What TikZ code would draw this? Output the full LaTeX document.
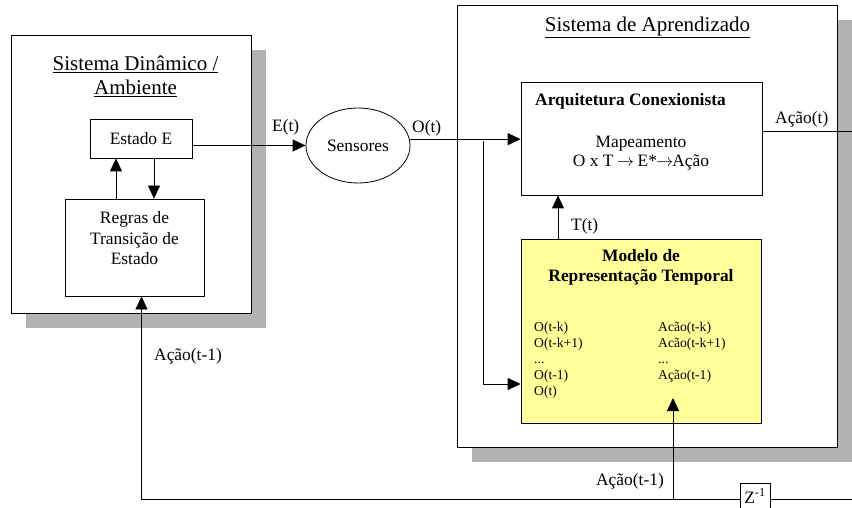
\documentclass[tikz,border=0pt]{standalone}
\usepackage{fontspec}
\setmainfont{Liberation Serif}
\usetikzlibrary{arrows.meta,shapes.geometric,shadows}
\definecolor{shadowgray}{HTML}{B2B2B2}
\definecolor{notey}{HTML}{FFFF99}
\newcommand{\myarrow}{\ensuremath{\mkern-1mu\rightarrow\mkern-1mu}}
\tikzset{
 box/.style={draw=black, line width=0.8pt, fill=white, inner sep=0pt},
 shad/.style={drop shadow={shadow xshift=15pt, shadow yshift=-15pt, fill=shadowgray, opacity=1}},
 body/.style={font=\fontsize{17.4}{20.5}\selectfont},
 ttl/.style={font=\fontsize{21}{23.5}\selectfont},
 small/.style={font=\fontsize{13.6}{16.2}\selectfont},
 txt/.style={inner sep=0pt},
 conn/.style={line width=0.8pt},
 arr/.style={conn, -{Triangle[length=13pt,width=12pt]}},
}
\begin{document}
\begin{tikzpicture}[x=1pt,y=-1pt]
\useasboundingbox (0,0) rectangle (852,508);
\clip (0,0) rectangle (852,508);
% outer boxes
\node[box, shad, minimum width=380pt, minimum height=442pt] (learn) at (647,226) {};
\node[box, shad, minimum width=240pt, minimum height=278pt] (env) at (131,174) {};
% titles
\node[txt, ttl, anchor=base] (envt1) at (135.5,71) {\underline{Sistema Dinâmico /}};
\node[txt, ttl, anchor=base] (envt2) at (135.5,94.5) {\underline{Ambiente}};
\node[txt, ttl, anchor=base] (learnt) at (647.5,31.5) {\underline{Sistema de Aprendizado}};
% environment
\node[box, body, minimum width=102pt, minimum height=39pt] (estado) at (141,138.5) {Estado E};
\node[box, minimum width=139pt, minimum height=97pt] (regras) at (134.5,247.5) {};
\node[txt, body, align=center] (regrast) at (134.5,238.5) {Regras de\\Transição de\\Estado};
% sensors
\node[draw, ellipse, conn, fill=white, body, minimum width=104pt, minimum height=75pt, inner sep=0pt] (sens) at (358,145.5) {Sensores};
% architecture
\node[box, minimum width=241pt, minimum height=113pt] (arq) at (641.5,138.5) {};
\node[txt, body, anchor=base west] (arqt) at (535,106) {\bfseries Arquitetura Conexionista};
\node[txt, align=center, font=\fontsize{17.4}{19}\selectfont] (mapt) at (641,153.2) {Mapeamento\\O x T \myarrow\ E*\myarrow Ação};
% temporal model
\node[box, fill=notey, minimum width=240pt, minimum height=184pt] (yel) at (641,331) {};
\node[txt, body, anchor=base] (yt1) at (641,261.5) {\bfseries Modelo de};
\node[txt, body, anchor=base] (yt2) at (641,281.5) {\bfseries Representação Temporal};
\node[txt, small, anchor=base west] (l1) at (534,331) {O(t-k)};
\node[txt, small, anchor=base west] (l2) at (534,347.2) {O(t-k+1)};
\node[txt, small, anchor=base west] (l3) at (534,363.4) {...};
\node[txt, small, anchor=base west] (l4) at (534,379.6) {O(t-1)};
\node[txt, small, anchor=base west] (l5) at (534,395.8) {O(t)};
\node[txt, small, anchor=base west] (r1) at (658,331) {Acão(t-k)};
\node[txt, small, anchor=base west] (r2) at (658,347.2) {Acão(t-k+1)};
\node[txt, small, anchor=base west] (r3) at (658,363.4) {...};
\node[txt, small, anchor=base west] (r4) at (658,379.6) {Ação(t-1)};
% delay
\node[box, minimum width=30pt, minimum height=32pt] (zbox) at (755,499) {};
\node[txt, body, anchor=base] (zt) at (755,503) {Z\textsuperscript{-1}};
% labels
\node[txt, body, anchor=base west] (let) at (272,132) {E(t)};
\node[txt, body, anchor=base west] (lot) at (412,132.5) {O(t)};
\node[txt, body, anchor=base west] (lat) at (775,124) {Ação(t)};
\node[txt, body, anchor=base west] (ltt) at (571,230) {T(t)};
\node[txt, body, anchor=base west] (la1) at (154,360) {Ação(t-1)};
\node[txt, body, anchor=base east] (la2) at (664,485) {Ação(t-1)};
% coordinates
\coordinate (aout) at (852,131);
\coordinate (bin) at (852,499);
\coordinate (br) at (483,141);
\coordinate (bj) at (673,499);
\coordinate (tipA) at (673,398);
% connectors
\draw[arr] ([xshift=-18.5pt]regras.north) -- ([xshift=-18.5pt]regras.north |- estado.south);
\draw[arr] ([xshift=13pt]estado.south) -- ([xshift=13pt]estado.south |- regras.north);
\draw[arr] ([yshift=-7pt]estado.east) -- (sens.west);
\draw[arr] (sens.7) -- (sens.7 -| arq.west);
\draw[arr] (br) |- ([yshift=-53pt]yel.west);
\draw[arr] ([xshift=-83pt]yel.north) -- ([xshift=-83pt]yel.north |- arq.south);
\draw[conn] ([yshift=7.5pt]arq.east) -- (aout);
\draw[conn] (bin) -- (zbox.east);
\draw[arr] (zbox.west) -| ([xshift=7pt]regras.south);
\draw[arr] (bj) -- (tipA);
\end{tikzpicture}
\end{document}
